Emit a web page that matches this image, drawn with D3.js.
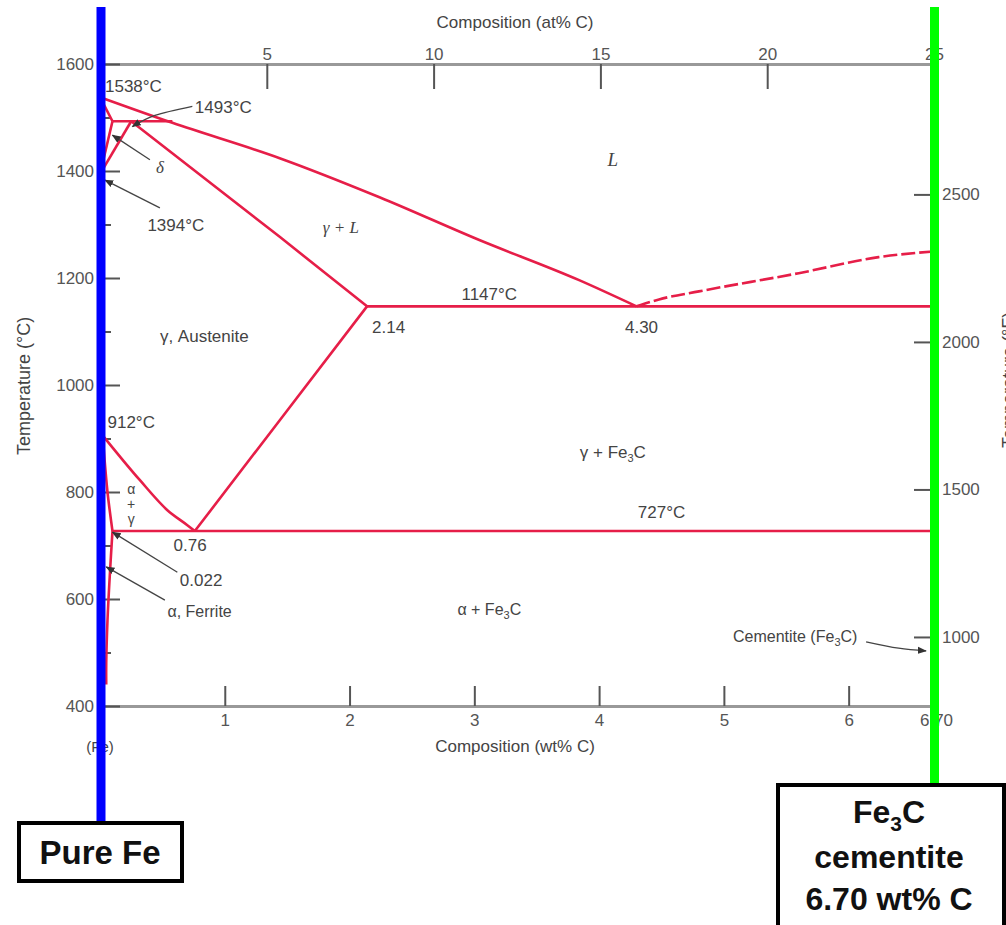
<!DOCTYPE html>
<html>
<head>
<meta charset="utf-8">
<script src="https://cdn.jsdelivr.net/npm/d3@7"></script>
<style>
  body { margin: 0; background: #fff; }
  svg { display: block; font-family: "Liberation Sans", Arial, sans-serif; }
  .axis .domain { stroke: #999; stroke-width: 3; }
  .axis line { stroke: #555; stroke-width: 2; }
  .axis text { fill: #555; font-size: 17px; font-family: "Liberation Sans", Arial, sans-serif; }
  .phase { fill: none; stroke: #e61e48; stroke-width: 2.6; stroke-linejoin: round; }
  .lbl { fill: #444; font-size: 17px; }
  .greek { font-family: "Liberation Serif", serif; font-style: italic; }
  .leader { fill: none; stroke: #444; stroke-width: 1.3; }
  .box { fill: #fff; stroke: #000; stroke-width: 4; }
  .boxtext { font-weight: bold; font-size: 32px; fill: #111; text-anchor: middle; }
</style>
</head>
<body>
<svg width="1006" height="925"></svg>
<script>
// axis ticks
var wtTicks = [1, 2, 3, 4, 5, 6, 6.7];
var atTicks = [5, 10, 15, 20, 25];
var tempTicks = [400, 600, 800, 1000, 1200, 1400, 1600];
var tempMinor = [500, 700, 900, 1100, 1300, 1500];
var fahrTicks = [1000, 1500, 2000, 2500];

// phase boundaries, [wt% C, temperature °C]
var liquidus = [[0, 1538], [0.58, 1490], [1.44, 1424], [2.24, 1351], [3.04, 1271], [3.84, 1196], [4.30, 1147]];
var liquidusFe3C = [[4.30, 1147], [4.48, 1160], [4.8, 1175], [5.6, 1209], [6.24, 1239], [6.70, 1250]];
var deltaLiquid = [[0, 1538], [0.1, 1493]];
var peritectic = [[0.1, 1493], [0.58, 1493]];
var deltaSolvus = [[0, 1394], [0.1, 1493]];
var gammaDelta = [[0, 1394], [0.25, 1493]];
var solidus = [[0.25, 1493], [1.44, 1277], [2.14, 1147]];
var eutectic = [[2.14, 1147], [6.70, 1147]];
var acm = [[2.14, 1147], [1.45, 937], [0.76, 727]];
var a3 = [[0, 912], [0.32, 822], [0.54, 766], [0.70, 738], [0.76, 727]];
var eutectoid = [[0.1, 727], [6.70, 727]];
var alphaGamma = [[0.03, 880], [0.06, 800], [0.1, 727]];
var alphaSolvus = [[0.1, 727], [0.08, 650], [0.06, 560], [0.05, 480], [0.05, 440]];

// text labels, [wt% C, °C] at the baseline
var labels = [
  { wt: 0.04, t: 1548, text: "1538°C" },
  { wt: 0.76, t: 1508, text: "1493°C" },
  { wt: 0.48, t: 1396, text: "δ", greek: true, anchor: "middle" },
  { wt: 0.38, t: 1288, text: "1394°C" },
  { wt: 4.11, t: 1409, text: "L", greek: true, anchor: "middle", size: 19 },
  { wt: 1.93, t: 1284, text: "γ + L", greek: true, anchor: "middle" },
  { wt: 3.12, t: 1158, text: "1147°C", anchor: "middle" },
  { wt: 2.18, t: 1097, text: "2.14" },
  { wt: 4.34, t: 1097, text: "4.30", anchor: "middle" },
  { wt: 0.48, t: 1080, text: "γ, Austenite" },
  { wt: 0.06, t: 920, text: "912°C" },
  { wt: 4.11, t: 864, text: "γ + Fe", sub: "3", tail: "C", anchor: "middle" },
  { wt: 0.25, t: 796, text: "α", anchor: "middle", size: 14 },
  { wt: 0.25, t: 768, text: "+", anchor: "middle", size: 14 },
  { wt: 0.25, t: 740, text: "γ", anchor: "middle", size: 14 },
  { wt: 4.5, t: 751, text: "727°C", anchor: "middle" },
  { wt: 0.59, t: 690, text: "0.76" },
  { wt: 0.64, t: 624, text: "0.022" },
  { wt: 0.54, t: 566, text: "α, Ferrite", size: 16 },
  { wt: 3.12, t: 570, text: "α + Fe", sub: "3", tail: "C", anchor: "middle", size: 16 },
  { wt: 6.07, t: 520, text: "Cementite (Fe", sub: "3", tail: "C)", anchor: "end", size: 16 }
];

var leaders = [
  [[0.74, 1521], [0.44, 1504], [0.26, 1483]],
  [[0.4, 1421], [0.1, 1467]],
  [[0.48, 1331], [0.04, 1383]],
  [[0.62, 650], [0.1, 725]],
  [[0.52, 598], [0.05, 660]],
  [[6.14, 520], [6.4, 508], [6.62, 503]]
];

var svg = d3.select("svg");

var x = d3.scaleLinear().domain([0, 6.7]).range([100, 936]);
var xAt = d3.scaleLinear().domain([0, 25]).range([100, 934]);
var y = d3.scaleLinear().domain([400, 1600]).range([706, 64]);
var yF = d3.scaleLinear().domain([766, 2942]).range([706, 64]);

// axes
svg.append("g")
    .attr("class", "axis")
    .attr("transform", "translate(0,64)")
    .call(d3.axisTop(xAt).tickValues(atTicks).tickSizeInner(-25).tickSizeOuter(0).tickPadding(4)
      .tickFormat(d3.format("d")));

svg.append("g")
    .attr("class", "axis")
    .attr("transform", "translate(0,706)")
    .call(d3.axisBottom(x).tickValues(wtTicks).tickSizeInner(-20).tickSizeOuter(0).tickPadding(8)
      .tickFormat(function(d) { return d === 6.7 ? "6.70" : d; }));

svg.append("g")
    .attr("class", "axis")
    .attr("transform", "translate(100,0)")
    .call(d3.axisLeft(y).tickValues(tempTicks).tickSizeInner(-20).tickSizeOuter(0).tickPadding(6)
      .tickFormat(d3.format("d")));

svg.append("g")
    .attr("class", "axis")
    .attr("transform", "translate(100,0)")
    .call(d3.axisLeft(y).tickValues(tempMinor).tickSizeInner(-11).tickSizeOuter(0).tickFormat(""))
    .select(".domain").remove();

svg.append("g")
    .attr("class", "axis")
    .attr("transform", "translate(934,0)")
    .call(d3.axisRight(yF).tickValues(fahrTicks).tickSizeInner(-20).tickSizeOuter(0).tickPadding(8)
      .tickFormat(d3.format("d")))
    .select(".domain").remove();

svg.append("text").attr("class", "lbl")
    .attr("x", 515).attr("y", 28).attr("text-anchor", "middle")
    .text("Composition (at% C)");
svg.append("text").attr("class", "lbl")
    .attr("x", 515).attr("y", 752).attr("text-anchor", "middle")
    .text("Composition (wt% C)");
svg.append("text").attr("class", "lbl")
    .attr("x", 100).attr("y", 752).attr("text-anchor", "middle")
    .style("font-size", "15px").text("(Fe)");
svg.append("text").attr("class", "lbl")
    .attr("transform", "translate(30,386) rotate(-90)").attr("text-anchor", "middle")
    .style("font-size", "18px").text("Temperature (°C)");
svg.append("text").attr("class", "lbl")
    .attr("transform", "translate(1015,380) rotate(-90)").attr("text-anchor", "middle")
    .style("font-size", "18px").text("Temperature (°F)");

// phase lines
var line = d3.line()
    .x(function(d) { return x(d[0]); })
    .y(function(d) { return y(d[1]); });
var smooth = d3.line()
    .x(function(d) { return x(d[0]); })
    .y(function(d) { return y(d[1]); })
    .curve(d3.curveMonotoneX);
var bent = d3.line()
    .x(function(d) { return x(d[0]); })
    .y(function(d) { return y(d[1]); })
    .curve(d3.curveCatmullRom);

[deltaLiquid, peritectic, deltaSolvus, gammaDelta, solidus, eutectic, acm, eutectoid]
  .forEach(function(p) {
    svg.append("path").attr("class", "phase").attr("d", line(p));
  });
[liquidus, a3].forEach(function(p) {
  svg.append("path").attr("class", "phase").attr("d", smooth(p));
});
[alphaGamma, alphaSolvus].forEach(function(p) {
  svg.append("path").attr("class", "phase").attr("d", bent(p));
});
svg.append("path").attr("class", "phase")
    .attr("d", smooth(liquidusFe3C))
    .style("stroke-dasharray", "14,4");

// labels
labels.forEach(function(l) {
  var t = svg.append("text")
      .attr("class", "lbl" + (l.greek ? " greek" : ""))
      .attr("x", x(l.wt))
      .attr("y", y(l.t))
      .attr("text-anchor", l.anchor || "start")
      .style("font-size", (l.size || 17) + "px");
  t.append("tspan").text(l.text);
  if (l.sub) {
    t.append("tspan").attr("dy", 4).style("font-size", "11px").text(l.sub);
    t.append("tspan").attr("dy", -4).text(l.tail);
  }
});

// leader arrows
svg.append("defs").append("marker")
    .attr("id", "arrow")
    .attr("viewBox", "0 0 10 10")
    .attr("refX", 9).attr("refY", 5)
    .attr("markerWidth", 7).attr("markerHeight", 7)
    .attr("orient", "auto")
  .append("path")
    .attr("d", "M0,1 L10,5 L0,9 z")
    .attr("fill", "#333");

var curve = d3.line()
    .x(function(d) { return x(d[0]); })
    .y(function(d) { return y(d[1]); })
    .curve(d3.curveNatural);
leaders.forEach(function(p) {
  svg.append("path").attr("class", "leader")
      .attr("d", curve(p))
      .attr("marker-end", "url(#arrow)");
});

// pure Fe and cementite markers
svg.append("line")
    .attr("x1", 101).attr("x2", 101)
    .attr("y1", 7).attr("y2", 823)
    .attr("stroke", "#0000ff").attr("stroke-width", 9);
svg.append("line")
    .attr("x1", 934.5).attr("x2", 934.5)
    .attr("y1", 7).attr("y2", 785)
    .attr("stroke", "#00ff00").attr("stroke-width", 9);

svg.append("rect").attr("class", "box")
    .attr("x", 19).attr("y", 823).attr("width", 163).attr("height", 58);
svg.append("text").attr("class", "boxtext")
    .attr("x", 100).attr("y", 864).style("font-size", "33px").text("Pure Fe");

svg.append("rect").attr("class", "box")
    .attr("x", 778).attr("y", 785).attr("width", 226).attr("height", 150);
var fe = svg.append("text").attr("class", "boxtext")
    .attr("x", 889).attr("y", 823);
fe.append("tspan").text("Fe");
fe.append("tspan").attr("dy", 8).style("font-size", "21px").text("3");
fe.append("tspan").attr("dy", -8).text("C");
svg.append("text").attr("class", "boxtext")
    .attr("x", 889).attr("y", 868).text("cementite");
svg.append("text").attr("class", "boxtext")
    .attr("x", 889).attr("y", 910).text("6.70 wt% C");
</script>
</body>
</html>
